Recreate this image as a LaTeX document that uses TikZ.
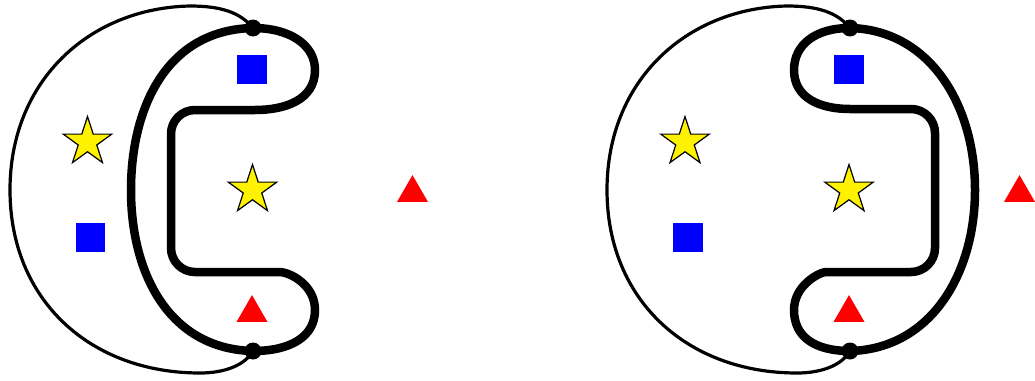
\documentclass[tikz,border=0pt]{standalone}
\usetikzlibrary{shapes.geometric}
\begin{document}
\begin{tikzpicture}[x=1pt,y=-1pt,
 thinline/.style={line width=3.2pt},
 thickline/.style={line width=8.5pt},
 dotnode/.style={circle, fill=black, inner sep=0pt, minimum size=17pt},
 bsq/.style={rectangle, fill=blue, inner sep=0pt, minimum size=29.5pt},
 ystar/.style={star, star points=5, star point ratio=2.618, fill=yellow, draw=black, line width=1.2pt, inner sep=0pt, minimum size=51pt},
 rtri/.style={regular polygon, regular polygon sides=3, fill=red, inner sep=0pt, minimum size=35.8pt}]
\useasboundingbox (0,0) rectangle (1035,380);

% ---------- left figure ----------
\coordinate (t1) at (253,28);
\coordinate (b1) at (253,351);
\draw[thinline] (t1) .. controls (240,12) and (220,6) .. (190,6)
  .. controls (90,8) and (10,80) .. (10,190)
  .. controls (10,300) and (90,373) .. (200,373)
  .. controls (225,373) and (245,365) .. (b1);
\draw[thickline] (t1) .. controls (165,30) and (131,110) .. (131,190)
  .. controls (131,275) and (170,349) .. (b1);
\draw[thickline] (t1) .. controls (290,28) and (315,45) .. (315,70)
  .. controls (315,100) and (285,110) .. (255,110)
  [rounded corners=24pt] -- (171,110) -- (171,272) -- (255,272) [sharp corners]
  .. controls (290,272) and (315,285) .. (315,310)
  .. controls (315,337) and (290,351) .. (b1);
\node[dotnode] (d1) at (t1) {};
\node[dotnode] (d2) at (b1) {};

\node[bsq] (s1) at (252,69.5) {};
\node[bsq] (s2) at (90.5,237.5) {};
\node[ystar] (st1) at (87.5,142) {};
\node[ystar] (st2) at (252.5,190) {};
\node[rtri] (tr1) at (252,313) {};
\node[rtri] (tr2) at (412.5,193) {};

% ---------- right figure ----------
\coordinate (t2) at (850,28);
\coordinate (b2) at (850,351);
\draw[thinline] (t2) .. controls (837,12) and (817,6) .. (787,6)
  .. controls (687,8) and (607,80) .. (607,190)
  .. controls (607,300) and (687,373) .. (797,373)
  .. controls (822,373) and (842,365) .. (b2);
\draw[thickline] (t2) .. controls (930,30) and (975,105) .. (975,190)
  .. controls (975,275) and (930,349) .. (b2);
\draw[thickline] (t2) .. controls (815,28) and (794,45) .. (794,70)
  .. controls (794,98) and (820,109) .. (850,109)
  [rounded corners=24pt] -- (935,109) -- (935,272) -- (850,272) [sharp corners]
  .. controls (820,272) and (794,285) .. (794,310)
  .. controls (794,337) and (815,351) .. (b2);
\node[dotnode] (d3) at (t2) {};
\node[dotnode] (d4) at (b2) {};

\node[bsq] (s3) at (849,69.5) {};
\node[bsq] (s4) at (688,237.5) {};
\node[ystar] (st3) at (685,142) {};
\node[ystar] (st4) at (849,190) {};
\node[rtri] (tr3) at (849,313) {};
\node[rtri] (tr4) at (1019.5,193) {};
\end{tikzpicture}
\end{document}
